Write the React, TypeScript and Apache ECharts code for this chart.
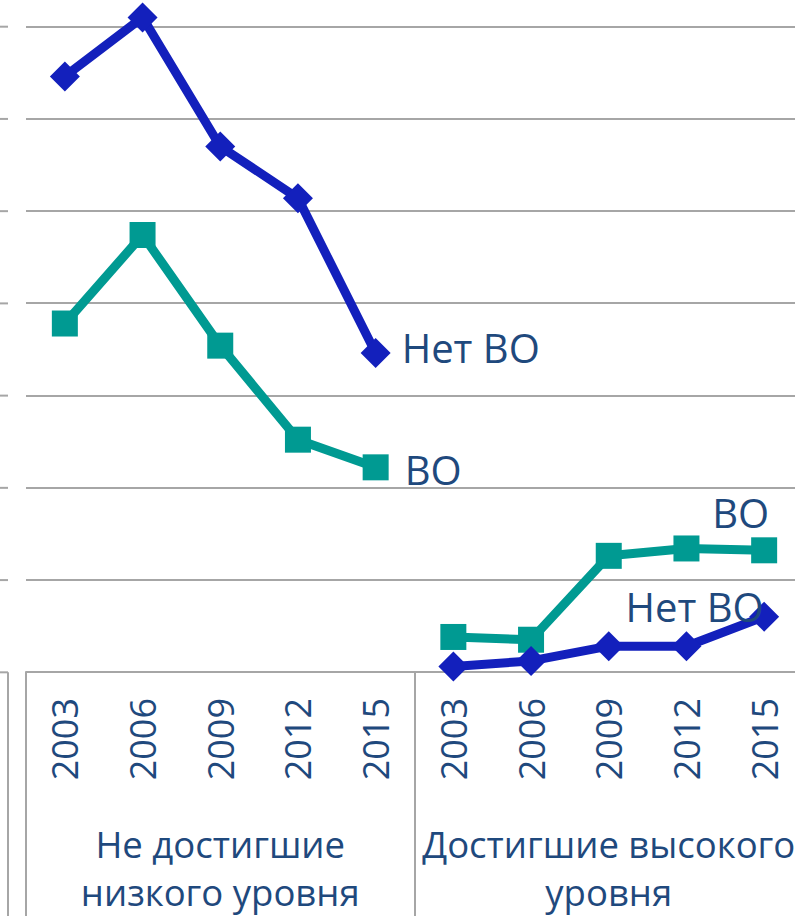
import React, { useEffect, useRef } from "react";
import * as echarts from "echarts";

const years = ["2003", "2006", "2009", "2012", "2015"];
const categories = [...years, ...years];
const groupLabels = ["Не достигшие\nнизкого уровня", "Достигшие высокого\nуровня"];
const seriesNames = ["Нет ВО", "ВО"];
// Не достигшие низкого уровня
const lowNoHE = [32.3, 35.5, 28.5, 25.7, 17.3];
const lowHE = [18.9, 23.7, 17.7, 12.6, 11.1];
// Достигшие высокого уровня
const highNoHE = [0.3, 0.6, 1.4, 1.4, 3.0];
const highHE = [1.9, 1.75, 6.3, 6.7, 6.6];

const BLUE = "#1320BC";
const TEAL = "#009A92";
const TEXT = "#1F497D";
const GRID = "#a6a6a6";
const FONT = "'Open Sans', 'Noto Sans', sans-serif";

const T = 100; // chart shifted up, top part is cropped
const W = 820;
const H = 916 + T;

export default function App() {
  const ref = useRef<HTMLDivElement>(null);
  useEffect(() => {
    if (!ref.current) return;
    const chart = echarts.init(ref.current, undefined, { renderer: "svg" });

    const mk = (vals: number[], group: number, labelCfg: any) => {
      const own = vals.map((v, i) => (i === vals.length - 1 ? { value: v, label: labelCfg } : v));
      const empty = vals.map(() => null);
      return group === 0 ? [...own, ...empty] : [...empty, ...own];
    };

    const lbl = (text: string, extra: any) => ({
      show: true,
      formatter: text,
      color: TEXT,
      fontSize: 40,
      fontFamily: FONT,
      ...extra,
    });

    const lineSeries = (name: string, data: any[], color: string, symbol: string, size: number) => ({
      type: "line",
      name,
      data,
      symbol,
      symbolSize: size,
      showAllSymbol: true,
      connectNulls: false,
      lineStyle: { color, width: 9 },
      itemStyle: { color },
      z: color === BLUE ? 3 : 2,
    });

    const gridStubs: any[] = [];
    for (let k = 0; k <= 7; k++) {
      const y = 26.7 + k * 92.23 + T;
      gridStubs.push({
        type: "line",
        shape: { x1: 0, y1: y, x2: 8, y2: y },
        style: { stroke: GRID, lineWidth: 2 },
      });
    }
    gridStubs.push({
      type: "line",
      shape: { x1: 8, y1: 672.3 + T, x2: 8, y2: H },
      style: { stroke: GRID, lineWidth: 2 },
    });

    chart.setOption({
      animation: false,
      textStyle: { fontFamily: FONT },
      grid: { left: 26, right: W - 803, top: 26.7 - 92.23 + T, bottom: H - (672.3 + T) },
      xAxis: [
        {
          type: "category",
          data: categories,
          boundaryGap: true,
          axisLine: { show: true, lineStyle: { color: GRID, width: 2 } },
          axisTick: { show: false },
          axisLabel: { rotate: 90, fontSize: 36, color: TEXT, margin: 26, interval: 0, fontFamily: FONT },
        },
        {
          type: "category",
          data: groupLabels,
          position: "bottom",
          boundaryGap: true,
          axisLine: { show: false },
          axisTick: { show: true, interval: 0, length: 260, lineStyle: { color: GRID, width: 2 } },
          axisLabel: { fontSize: 36.5, lineHeight: 48, color: TEXT, margin: 148, interval: 0, fontFamily: FONT },
        },
      ],
      yAxis: {
        type: "value",
        min: 0,
        max: 40,
        interval: 5,
        axisLabel: { show: false },
        axisLine: { show: false },
        axisTick: { show: false },
        splitLine: { show: true, lineStyle: { color: GRID, width: 2 } },
      },
      series: [
        lineSeries(seriesNames[0], mk(lowNoHE, 0, lbl(seriesNames[0], { position: "right", distance: 11, offset: [0, -6] })), BLUE, "diamond", 30),
        lineSeries(seriesNames[1], mk(lowHE, 0, lbl(seriesNames[1], { position: "right", distance: 16, offset: [0, 2] })), TEAL, "rect", 26),
        lineSeries(seriesNames[0], mk(highNoHE, 1, lbl(seriesNames[0], { position: "inside", offset: [-69.5, -10] })), BLUE, "diamond", 30),
        lineSeries(seriesNames[1], mk(highHE, 1, lbl(seriesNames[1], { position: "inside", offset: [-23.5, -38] })), TEAL, "rect", 26),
      ],
      graphic: gridStubs,
    });
    return () => chart.dispose();
  }, []);

  return (
    <div style={{ position: "fixed", left: 0, top: 0, width: 795, height: 916, overflow: "hidden", background: "#fff" }}>
      <div ref={ref} style={{ position: "absolute", left: 0, top: -T, width: W, height: H }} />
    </div>
  );
}
